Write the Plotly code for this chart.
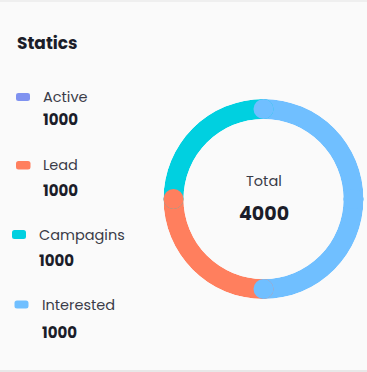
import plotly.graph_objects as go

# ---- data ----
labels = ["Active", "Lead", "Campagins", "Interested"]
values = [1000, 1000, 1000, 1000]
legend_colors = ["#7F92F0", "#FF7F5E", "#00D0E0", "#70BFFF"]
# ring order (clockwise from top) and colors as seen in the donut
ring_labels = ["Interested", "Active", "Lead", "Campagins"]
ring_colors = ["#70BFFF", "#70BFFF", "#FF7F5E", "#00D0E0"]
total_label = "Total"

W, H = 367, 372
FONT = "Poppins, Inter, 'Open Sans', sans-serif"
DARK = "#1B1D29"
GRAY = "#3A3C48"

val = dict(zip(labels, values))
ring_values = [val[l] for l in ring_labels]
total = sum(values)

# angles
widths, centers, starts = [], [], []
acc = 0.0
for v in ring_values:
    w = v / total * 360.0
    starts.append(acc)
    widths.append(w)
    centers.append(acc + w / 2)
    acc += w

fig = go.Figure()
fig.add_trace(go.Barpolar(
    r=[1] * len(ring_values), theta=centers, width=widths,
    marker=dict(color=ring_colors, line=dict(width=0)),
    hoverinfo="skip", showlegend=False))

# rounded caps: draw in order so blue sits on top
draw_order = ["Campagins", "Lead", "Active", "Interested"]
for name in draw_order:
    i = ring_labels.index(name)
    fig.add_trace(go.Scatterpolar(
        r=[0.5, 0.5], theta=[starts[i], starts[i] + widths[i]],
        mode="markers", marker=dict(size=20, color=ring_colors[i], line=dict(width=0)),
        hoverinfo="skip", showlegend=False, cliponaxis=False))

cx, cy, R = 263.5, 199, 100
fig.update_layout(
    width=W, height=H, margin=dict(l=0, r=0, t=0, b=0),
    paper_bgcolor="#FAFAFA", plot_bgcolor="#FAFAFA",
    polar=dict(
        domain=dict(x=[(cx - R) / W, (cx + R) / W], y=[1 - (cy + R) / H, 1 - (cy - R) / H]),
        hole=0.8, bgcolor="rgba(0,0,0,0)",
        radialaxis=dict(visible=False, range=[0, 1]),
        angularaxis=dict(visible=False, rotation=90, direction="clockwise"),
    ),
)

def px(x, y):
    return x / W, 1 - y / H

annotations = []
shapes = []

# title
x, y = px(14.5, 43)
annotations.append(dict(x=x, y=y, xref="paper", yref="paper", text="<b>Statics</b>",
                        showarrow=False, xanchor="left", yanchor="middle",
                        font=dict(family=FONT, size=17, color=DARK)))

# legend rows
rows = [
    # marker box (x0,y0,x1,y1), label x, label y, value y
    ((16, 93, 30, 101), 40.5, 97, 120),
    ((16, 161, 30.5, 169.5), 40.5, 165, 190),
    ((12, 230, 26, 239), 36.5, 235, 260),
    ((14.5, 300.5, 28.5, 308.5), 39.5, 305, 332),
]

def rrect(x0, y0, x1, y1, r=2.5):
    def P(a, b):
        u, v = px(a, b)
        return f"{u:.5f},{v:.5f}"
    return (f"M {P(x0 + r, y0)} L {P(x1 - r, y0)} Q {P(x1, y0)} {P(x1, y0 + r)} "
            f"L {P(x1, y1 - r)} Q {P(x1, y1)} {P(x1 - r, y1)} L {P(x0 + r, y1)} "
            f"Q {P(x0, y1)} {P(x0, y1 - r)} L {P(x0, y0 + r)} Q {P(x0, y0)} {P(x0 + r, y0)} Z")

for lab, v, col, (box, lx, ly, vy) in zip(labels, values, legend_colors, rows):
    shapes.append(dict(type="path", xref="paper", yref="paper", path=rrect(*box),
                       fillcolor=col, line=dict(width=0)))
    x, y = px(lx, ly)
    annotations.append(dict(x=x, y=y, xref="paper", yref="paper", text=lab, showarrow=False,
                            xanchor="left", yanchor="middle",
                            font=dict(family=FONT, size=14.5, color=GRAY)))
    x, y = px(lx, vy)
    annotations.append(dict(x=x, y=y, xref="paper", yref="paper", text=f"<b>{v}</b>",
                            showarrow=False, xanchor="left", yanchor="middle",
                            font=dict(family=FONT, size=15, color=DARK)))

# center texts
x, y = px(cx, 181)
annotations.append(dict(x=x, y=y, xref="paper", yref="paper", text=total_label, showarrow=False,
                        xanchor="center", yanchor="middle",
                        font=dict(family=FONT, size=14.5, color=GRAY)))
x, y = px(cx, 213)
annotations.append(dict(x=x, y=y, xref="paper", yref="paper", text=f"<b>{total}</b>",
                        showarrow=False, xanchor="center", yanchor="middle",
                        font=dict(family=FONT, size=19, color=DARK)))

# card top/bottom edges
shapes.append(dict(type="rect", xref="paper", yref="paper", x0=0, x1=1, y0=1 - 2 / H, y1=1,
                   fillcolor="#EFEFEF", line=dict(width=0), layer="below"))
shapes.append(dict(type="rect", xref="paper", yref="paper", x0=0, x1=1, y0=0, y1=2 / H,
                   fillcolor="#E8E8E8", line=dict(width=0), layer="below"))

fig.update_layout(annotations=annotations, shapes=shapes)
fig.write_html("out.html", config={"displayModeBar": False, "staticPlot": True},
               post_script="document.body.style.margin='0';document.body.style.overflow='hidden';")
